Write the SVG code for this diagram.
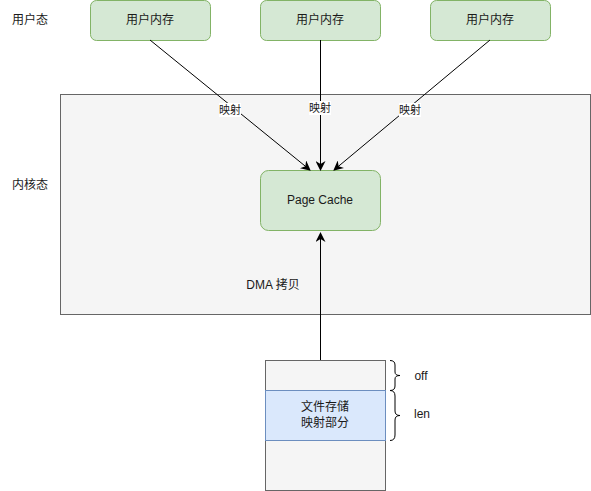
<svg xmlns="http://www.w3.org/2000/svg" width="591" height="491" viewBox="0 0 591 491">
<style>
text{font-family:"Liberation Sans","Noto Sans CJK SC",sans-serif;font-size:12px;fill:#1a1a1a;text-anchor:middle;dominant-baseline:central}
.g{fill:#d5e8d4;stroke:#82b366;stroke-width:1}
.k{fill:#f5f5f5;stroke:#666666;stroke-width:1}
.b{fill:#dae8fc;stroke:#6c8ebf;stroke-width:1}
.e{fill:none;stroke:#000;stroke-width:1}
.lbl{font-size:11px}
</style>
<defs>
<marker id="ar" viewBox="0 0 10 10" refX="9" refY="5" markerWidth="10" markerHeight="10" markerUnits="userSpaceOnUse" orient="auto">
<path d="M0,0 L10,5 L0,10 L3,5 Z" fill="#000"/>
</marker>
</defs>
<g id="kernel"><rect class="k" x="60.5" y="94.5" width="530" height="220"/></g>
<g id="label-user"><text x="30" y="20">用户态</text></g>
<g id="label-kernel"><text x="30" y="185">内核态</text></g>
<g id="um1"><rect class="g" x="90.5" y="0.5" width="120" height="40" rx="6"/><text x="150" y="20">用户内存</text></g>
<g id="um2"><rect class="g" x="260.5" y="0.5" width="120" height="40" rx="6"/><text x="320" y="20">用户内存</text></g>
<g id="um3"><rect class="g" x="430.5" y="0.5" width="120" height="40" rx="6"/><text x="490" y="20">用户内存</text></g>
<g id="pagecache"><rect class="g" x="260.5" y="170.5" width="120" height="60" rx="8"/><text x="320" y="200">Page Cache</text></g>
<g id="file">
<rect class="k" x="265.5" y="360.5" width="120" height="130"/>
<rect class="b" x="265.5" y="390.5" width="120" height="50"/>
<text x="325" y="407">文件存储</text>
<text x="325" y="423">映射部分</text>
</g>
<g id="brace-off"><path class="e" d="M390,360.5 Q395,360.5 395,365 L395,372 Q395,375.5 400,375.5 Q395,375.5 395,379 L395,386 Q395,390.5 390,390.5"/><text x="421" y="376">off</text></g>
<g id="brace-len"><path class="e" d="M390,390.5 Q395,390.5 395,396 L395,411 Q395,415.5 400,415.5 Q395,415.5 395,420 L395,435 Q395,440.5 390,440.5"/><text x="422" y="414">len</text></g>
<g id="connectors">
<line class="e" x1="150" y1="40" x2="310" y2="170" marker-end="url(#ar)"/>
<line class="e" x1="320.5" y1="40" x2="320.5" y2="170" marker-end="url(#ar)"/>
<line class="e" x1="490" y1="40" x2="334" y2="170" marker-end="url(#ar)"/>
<line class="e" x1="320.5" y1="360" x2="320.5" y2="233" marker-end="url(#ar)"/>
<rect x="219" y="103" width="22" height="14" fill="#ffffff"/>
<text class="lbl" x="230" y="110">映射</text>
<rect x="309" y="101" width="22" height="14" fill="#ffffff"/>
<text class="lbl" x="320" y="108">映射</text>
<rect x="399" y="103" width="22" height="14" fill="#ffffff"/>
<text class="lbl" x="410" y="110">映射</text>
<text x="273" y="285">DMA 拷贝</text>
</g>
</svg>
